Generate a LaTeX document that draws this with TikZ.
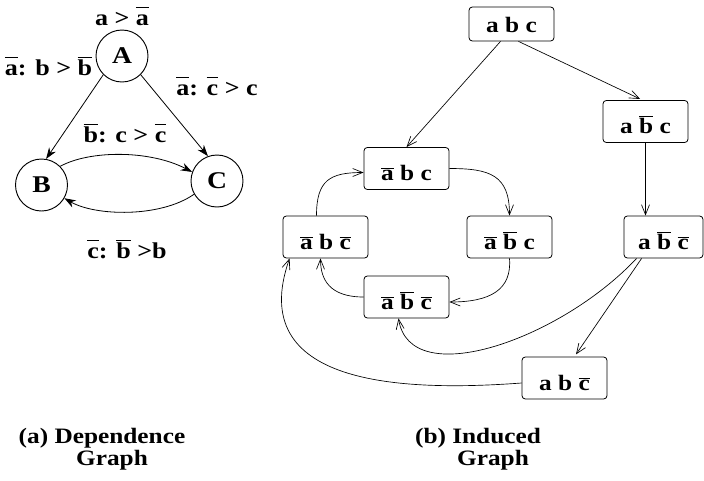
\documentclass[tikz,border=0pt]{standalone}
\usepackage{fontspec}
\setmainfont{Liberation Serif}[FakeStretch=1.15]
\usetikzlibrary{arrows.meta,calc}
\newcommand\ob[1]{\ensuremath{\overline{\mbox{#1}}}}
\newcommand\obv[1]{\ensuremath{\overline{\mbox{\vphantom{b}#1}}}}
\begin{document}
\begin{tikzpicture}[x=0.75pt,y=-0.75pt,
  state/.style={circle, draw, line width=0.7pt, minimum size=39pt, inner sep=0pt, font=\fontsize{18}{20}\selectfont\bfseries},
  box/.style={draw, rounded corners=2.5pt, line width=0.6pt, minimum width=63.75pt, inner sep=0pt, text height=25pt, text depth=6.5pt, font=\fontsize{16.5}{18}\selectfont\bfseries},
  lbl/.style={font=\fontsize{17}{19}\selectfont\bfseries, anchor=base, inner sep=0pt},
  captxt/.style={font=\fontsize{16.5}{19}\selectfont\bfseries, anchor=base, inner sep=0pt},
  dep/.style={-{Stealth[length=8.5pt,width=6pt]}, line width=0.6pt},
  ind/.style={-{Straight Barb[length=7.5pt,width=6pt]}, line width=0.5pt}
]
\useasboundingbox (0,0) rectangle (704,480);
% (a) dependence graph
\node[state] (A) at (122,56) {A};
\node[state] (B) at (41.5,185) {B};
\node[state] (C) at (217,181) {C};
\node[lbl] (lA) at (122,25) {a > \obv{a}};
\node[lbl] (lAB) at (48.5,75) {\obv{a}: b > \obv{b}};
\node[lbl] (lAC) at (217,95) {\obv{a}: \obv{c} > c};
\node[lbl] (lBC) at (125,142) {\obv{b}: c > \obv{c}};
\node[lbl] (lCB) at (127,258) {\obv{c}: \obv{b} >b};
\draw[dep] (A.225) -- (B.80);
\draw[dep] (A.-45) -- (C.110);
\draw[dep] (B.45) .. controls (90,150) and (150,150) .. (C.160);
\draw[dep] (C.210) .. controls (160,218) and (95,216) .. (B.-30);
\node[captxt] (capa1) at (102,443) {(a) Dependence};
\node[captxt] (capa2) at (112,465) {Graph};
% (b) induced graph
\node[box, text height=19pt] (n1) at (511.5,24) {a b c};
\node[box] (n2) at (645.5,121.5) {a \ob{b} c};
\node[box] (n3) at (406.5,168.5) {\ob{a} b c};
\node[box] (n4) at (325.5,237) {\ob{a} b \ob{c}};
\node[box] (n5) at (509.5,237) {\ob{a} \ob{b} c};
\node[box] (n6) at (406.5,297) {\ob{a} \ob{b} \ob{c}};
\node[box, minimum width=59.25pt] (n7) at (663.5,237) {a \ob{b} \ob{c}};
\node[box] (n8) at (564.5,378) {a b \ob{c}};
\draw[ind] ($(n1.south)+(-11,0)$) -- (n3.north);
\draw[ind, shorten >=2pt] ($(n1.south)+(7,0)$) -- ($(n2.north)+(-3,0)$);
\draw[ind] (n2.south) -- (n2.south |- n7.north);
\draw[ind] (n3.east) .. controls (490,168.5) and (509.5,175) .. (n5.north);
\draw[ind] (n5.south) .. controls (512,290) and (490,302) .. ($(n6.east)+(0,5)$);
\draw[ind] (n6.west) .. controls (330,297) and (320.5,280) .. ($(n4.south)+(-5,0)$);
\draw[ind] ($(n4.north)+(-9,0)$) .. controls (316.5,180) and (330,172.5) .. ($(n3.west)+(0,4)$);
\draw[ind] ($(n7.south west)+(13,0)$) .. controls (560,340) and (410,392) .. ($(n6.south)+(-8,0)$);
\draw[ind, shorten >=2pt] ($(n7.south west)+(18,0)$) -- ($(n8.north)+(10,0)$);
\draw[ind] ($(n8.west)+(0,5)$) .. controls (400,392) and (245,385) .. ($(n4.south west)+(7,0)$);
\node[captxt] (capb1) at (478,443) {(b) Induced};
\node[captxt] (capb2) at (493,465) {Graph};
\end{tikzpicture}
\end{document}
